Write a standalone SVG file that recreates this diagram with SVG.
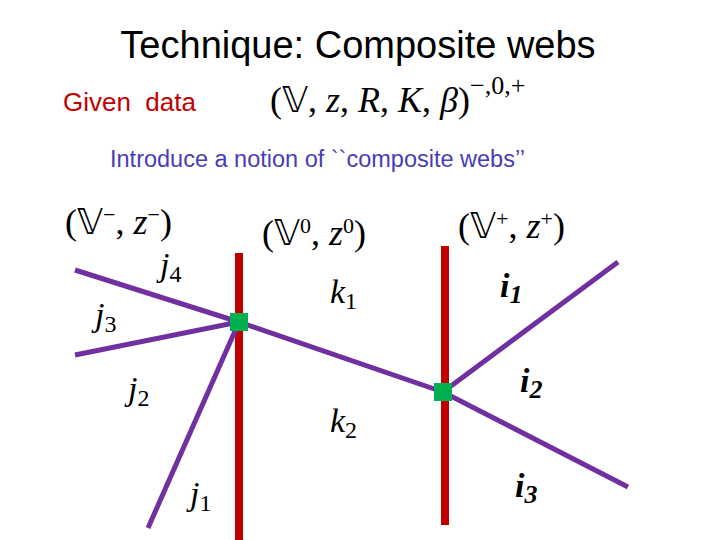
<svg xmlns="http://www.w3.org/2000/svg" width="720" height="540" viewBox="0 0 720 540">
<style>
.m{font-family:"Liberation Serif","DejaVu Serif",serif;font-style:italic;font-size:34px;fill:#000}
.b{font-weight:bold}
.r{font-family:"Liberation Serif","DejaVu Serif",serif;font-size:36px;fill:#000}
.bar{stroke:#c00000;stroke-width:8}
.web{stroke:#7030a0;stroke-width:5;fill:none}
.sq{fill:#00b050}
</style>
<rect width="720" height="540" fill="#fff"/>
<text x="358" y="58" text-anchor="middle" font-family="Liberation Sans,Arial,sans-serif" font-size="38">Technique: Composite webs</text>
<text x="63" y="111" font-family="Liberation Sans,Arial,sans-serif" font-size="26" fill="#c00000">Given&#160; data</text>
<text x="270" y="112" class="r" font-size="40">(<tspan font-family="DejaVu Sans,sans-serif" font-style="normal">𝕍</tspan>, <tspan font-style="italic">z</tspan>, <tspan font-style="italic">R</tspan>, <tspan font-style="italic">K</tspan>, <tspan font-style="italic">β</tspan>)<tspan dy="-18" font-size="26">−,0,+</tspan></text>
<text x="110" y="167" font-family="Liberation Sans,Arial,sans-serif" font-size="23.5" fill="#4a3cb4">Introduce a notion of ``composite webs’’</text>
<text x="65" y="234" class="r">(<tspan font-family="DejaVu Sans,sans-serif">𝕍</tspan><tspan dy="-12" font-size="22">−</tspan><tspan dy="12">, </tspan><tspan font-style="italic">z</tspan><tspan dy="-12" font-size="22">−</tspan><tspan dy="12">)</tspan></text>
<text x="262" y="245" class="r">(<tspan font-family="DejaVu Sans,sans-serif">𝕍</tspan><tspan dy="-12" font-size="22">0</tspan><tspan dy="12">, </tspan><tspan font-style="italic">z</tspan><tspan dy="-12" font-size="22">0</tspan><tspan dy="12">)</tspan></text>
<text x="458" y="238" class="r">(<tspan font-family="DejaVu Sans,sans-serif">𝕍</tspan><tspan dy="-12" font-size="22">+</tspan><tspan dy="12">, </tspan><tspan font-style="italic">z</tspan><tspan dy="-12" font-size="22">+</tspan><tspan dy="12">)</tspan></text>
<g id="connectors">
<line class="bar" x1="239" y1="253" x2="239" y2="540"/>
<line class="bar" x1="445" y1="246" x2="445" y2="525"/>
<polyline class="web" points="75,270 239,322 75,355"/>
<line class="web" x1="239" y1="322" x2="148" y2="528"/>
<polyline class="web" points="239,322 443,392 628,487"/>
<line class="web" x1="443" y1="392" x2="618" y2="262"/>
</g>
<g id="v1"><rect class="sq" x="230" y="313" width="18" height="18"/></g>
<g id="v2"><rect class="sq" x="434" y="383" width="18" height="18"/></g>
<g id="labels">
<text class="m" x="160" y="276">j<tspan font-style="normal" font-size="24" dy="6">4</tspan></text>
<text class="m" x="95" y="326">j<tspan font-style="normal" font-size="24" dy="6">3</tspan></text>
<text class="m" x="128" y="400">j<tspan font-style="normal" font-size="24" dy="6">2</tspan></text>
<text class="m" x="190" y="505">j<tspan font-style="normal" font-size="24" dy="6">1</tspan></text>
<text class="m" x="330" y="303">k<tspan font-style="normal" font-size="24" dy="6">1</tspan></text>
<text class="m" x="330" y="432">k<tspan font-style="normal" font-size="24" dy="6">2</tspan></text>
<text class="m b" x="500" y="297">i<tspan font-size="26" dy="6">1</tspan></text>
<text class="m b" x="520" y="392">i<tspan font-size="26" dy="6">2</tspan></text>
<text class="m b" x="515" y="497">i<tspan font-size="26" dy="6">3</tspan></text>
</g>
</svg>
